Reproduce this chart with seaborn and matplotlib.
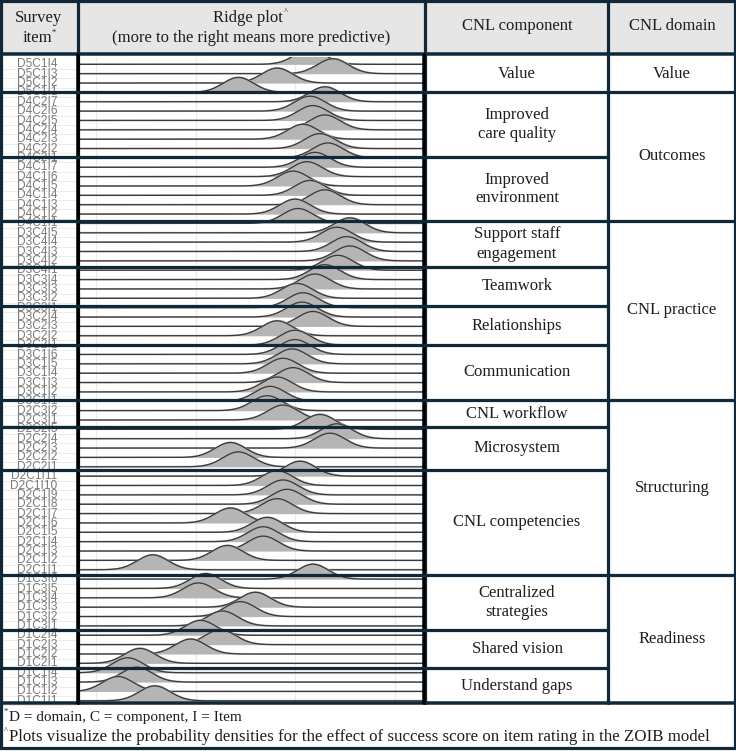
import numpy as np
import pandas as pd
import matplotlib
matplotlib.use("Agg")
import matplotlib.pyplot as plt
import seaborn as sns

# ---------------- data ----------------
groups = ["D5C1", "D4C2", "D4C1", "D3C4", "D3C3", "D3C2", "D3C1",
          "D2C3", "D2C2", "D2C1", "D1C3", "D1C2", "D1C1"]
components = ["Value", "Improved\ncare quality", "Improved\nenvironment",
              "Support staff\nengagement", "Teamwork", "Relationships",
              "Communication", "CNL workflow", "Microsystem", "CNL competencies",
              "Centralized\nstrategies", "Shared vision", "Understand gaps"]
domains = ["Value", "Outcomes", "CNL practice", "Structuring", "Readiness"]
components_per_domain = [1, 2, 4, 3, 3]

# posterior mean effect (peak location) per item, listed from highest item number down to I1
effect_D5C1 = [2.15, 2.38, 1.82, 1.43]
effect_D4C2 = [2.30, 2.15, 2.18, 2.30, 2.08, 2.25, 2.33]
effect_D4C1 = [2.20, 2.12, 1.98, 2.15, 2.30, 2.00, 2.03]
effect_D3C4 = [2.55, 2.42, 2.52, 2.55, 2.43]
effect_D3C3 = [2.30, 2.20, 2.02, 2.08]
effect_D3C2 = [2.07, 2.18, 1.82, 2.00]
effect_D3C1 = [2.00, 1.97, 1.88, 1.98, 1.82, 1.75]
effect_D2C3 = [1.72, 1.88]
effect_D2C2 = [2.25, 2.42, 2.35, 1.35, 1.43]
effect_D2C1 = [2.05, 1.82, 1.88, 1.92, 1.82, 1.35, 1.72, 1.68, 1.68, 1.32, 0.57]
effect_D1C3 = [2.18, 1.10, 1.03, 1.60, 1.45, 1.27]
effect_D1C2 = [1.05, 1.25, 0.95, 0.44]
effect_D1C1 = [0.32, 0.41, 0.22, 0.59]
effect_sd = 0.155

effects = [effect_D5C1, effect_D4C2, effect_D4C1, effect_D3C4, effect_D3C3,
           effect_D3C2, effect_D3C1, effect_D2C3, effect_D2C2, effect_D2C1,
           effect_D1C3, effect_D1C2, effect_D1C1]

rows = []
for g, vals in zip(groups, effects):
    n = len(vals)
    for k, v in enumerate(vals):
        rows.append({"group": g, "item": f"{g}I{n - k}", "mean": v})
df = pd.DataFrame(rows)
N = len(df)

# ---------------- layout (pixels) ----------------
W, H = 736, 751
NAVY = "#10293a"
TXT = "#1e1e1e"
SERIF = ["Liberation Serif", "DejaVu Serif"]

col_x = [1, 78, 425, 608, 735]
header_bottom = 55
ridge_top, ridge_bot = 57, 703
footer_bot = 748
group_lines = [92, 157, 221, 267, 306, 345, 400, 427, 470, 575, 630, 668]
domain_lines = [92, 221, 400, 575]
row_step = 9.36
first_base = 55 + row_step

sns.set_theme(style="white")
plt.rcParams["font.family"] = SERIF

fig = plt.figure(figsize=(W / 100, H / 100), dpi=100)
fig.patch.set_facecolor("white")

px = lambda p: p * 72 / 100  # pixel -> points

# background axes
bg = fig.add_axes([0, 0, 1, 1], zorder=0)
bg.set_xlim(0, W)
bg.set_ylim(H, 0)
bg.axis("off")
bg.add_patch(plt.Rectangle((0, 0), W, header_bottom, color="#e6e6e6", lw=0))

# item labels
for i, lab in enumerate(df["item"]):
    yb = first_base + i * row_step
    bg.plot([3, 76], [yb + 4.5, yb + 4.5], color="#ececec", lw=px(1))
    bg.text(57, yb, lab, ha="right", va="center", fontsize=8.6, color="#7a7a7a",
            family=["Liberation Sans", "DejaVu Sans"])

# ridge axes
x0, x1 = 80, 423
ax = fig.add_axes([x0 / W, 1 - ridge_bot / H, (x1 - x0) / W, (ridge_bot - ridge_top) / H], zorder=1)
last_base = first_base + (N - 1) * row_step
ax.set_ylim(-(N - 1) - (ridge_bot - last_base) / row_step, (first_base - ridge_top) / row_step)
ax.set_xlim((x0 - 96) / 99.5, (x1 - 96) / 99.5)
ax.axis("off")
for g in [0, 1, 2, 3]:
    ax.axvline(g, color="#ebebeb", lw=px(1.2), zorder=1)

xs = np.linspace(-0.3, 3.4, 700)
peak = 1.6
for i, m in enumerate(df["mean"]):
    base = -i
    dens = peak * np.exp(-0.5 * ((xs - m) / effect_sd) ** 2)
    z = 10 + 2 * i
    ax.fill_between(xs, base, base + dens + 0.16, color="#b5b5b5", lw=0, zorder=z)
    sns.lineplot(x=xs, y=base + dens, ax=ax, color="#3a3a3a", lw=px(1.3), zorder=z + 1,
                 sort=False, estimator=None)
ax.set_xlabel("")
ax.set_ylabel("")

# overlay axes for the table grid and text
ov = fig.add_axes([0, 0, 1, 1], zorder=3)
ov.set_xlim(0, W)
ov.set_ylim(H, 0)
ov.axis("off")
ov.patch.set_alpha(0)

lw_main = px(3.2)
# outer frame
ov.plot([1, 735, 735, 1, 1], [1, 1, footer_bot, footer_bot, 1], color=NAVY, lw=lw_main, solid_joinstyle="miter")
# header bottom / ridge bottom
ov.plot([0, W], [header_bottom - 1, header_bottom - 1], color=NAVY, lw=px(3.5))
ov.plot([0, W], [ridge_bot, ridge_bot], color=NAVY, lw=px(3.5))
# vertical column separators
for cx in col_x[1:4]:
    ov.plot([cx, cx], [1, ridge_bot], color=NAVY, lw=lw_main)
for cx in [77.5, 424]:
    ov.plot([cx, cx], [header_bottom, ridge_bot], color="black", lw=px(3.5))
# group lines
for gy in group_lines:
    ov.plot([0, 608], [gy, gy], color=NAVY, lw=lw_main)
for gy in domain_lines:
    ov.plot([608, W], [gy, gy], color=NAVY, lw=lw_main)

# header text
ov.text(39, 18, "Survey", ha="center", va="center", fontsize=12, color=TXT)
ov.text(37, 38, "item", ha="center", va="center", fontsize=12, color=TXT)
ov.text(54, 33, "*", ha="center", va="center", fontsize=6, color=TXT)
ov.text(248, 18, "Ridge plot", ha="center", va="center", fontsize=12, color=TXT)
ov.text(286, 12, "^", ha="center", va="center", fontsize=6, color=TXT)
ov.text(251, 38, "(more to the right means more predictive)", ha="center", va="center", fontsize=12, color=TXT)
ov.text(517, 26, "CNL component", ha="center", va="center", fontsize=12, color=TXT)
ov.text(672, 26, "CNL domain", ha="center", va="center", fontsize=12, color=TXT)

# component cells
bounds = [ridge_top] + group_lines + [ridge_bot]
for k, comp in enumerate(components):
    yc = (bounds[k] + bounds[k + 1]) / 2
    ov.text(517, yc, comp, ha="center", va="center", fontsize=12, color=TXT, linespacing=1.25)

# domain cells
dbounds = [ridge_top] + domain_lines + [ridge_bot]
for k, dom in enumerate(domains):
    yc = (dbounds[k] + dbounds[k + 1]) / 2
    ov.text(672, yc, dom, ha="center", va="center", fontsize=12, color=TXT)

# footer
ov.text(4, 712, "*", ha="left", va="center", fontsize=6, color=TXT)
ov.text(9, 717, "D = domain, C = component, I = Item", ha="left", va="center", fontsize=11, color=TXT)
ov.text(4, 731, "^", ha="left", va="center", fontsize=6, color=TXT)
ov.text(9, 737, "Plots visualize the probability densities for the effect of success score on item rating in the ZOIB model",
        ha="left", va="center", fontsize=12.2, color=TXT)

fig.savefig("out.png", dpi=100)
